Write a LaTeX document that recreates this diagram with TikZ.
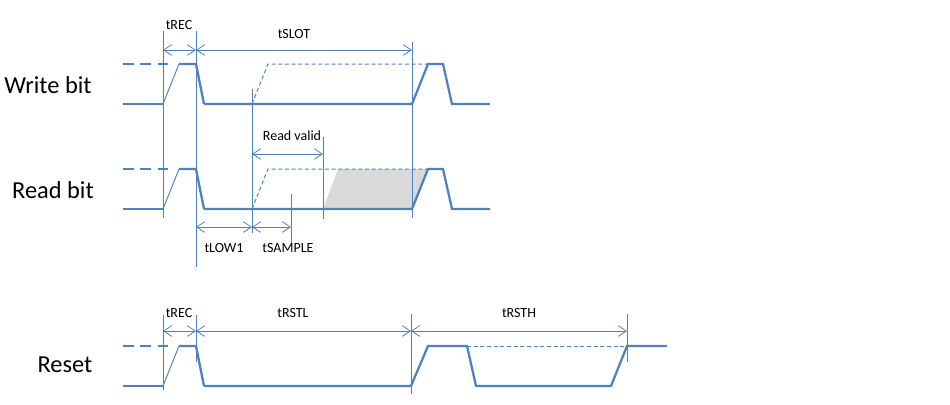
\documentclass[tikz,border=0pt]{standalone}
\usepackage{fontspec}
\setmainfont{Carlito}
\usetikzlibrary{arrows.meta,positioning}
\definecolor{sigblue}{HTML}{4F81BD}
\definecolor{validgray}{HTML}{D9D9D9}

\begin{document}
\begin{tikzpicture}[x=0.75pt, y=-0.75pt,
    sig/.style={draw=sigblue, line width=1.7pt},
    sigthin/.style={draw=sigblue, line width=0.75pt},
    vline/.style={draw=sigblue, line width=0.75pt},
    dim/.style={draw=sigblue, line width=0.6pt,
      {Straight Barb[length=6pt,width=8pt]}-{Straight Barb[length=6pt,width=8pt]}},
    rowlabel/.style={font=\fontsize{18.3}{21}\selectfont},
    tlabel/.style={font=\fontsize{10.5}{12}\selectfont}
  ]
\useasboundingbox (0,0) rectangle (950,404);

% Row labels
\node[rowlabel] (wlab) at (48,85) {Write bit};
\node[rowlabel] (rlab) at (53,190) {Read bit};
\node[rowlabel] (slab) at (65,365) {Reset};

% Read valid window
\fill[validgray] (323,209) -- (338,169) -- (427,169) -- (412,209) -- cycle;

% Common start: recovery and falling edge
\foreach \lo/\hi in {104/64, 209/169, 386/346} {
  \draw[sig] (123,\lo) -- (163,\lo);
  \draw[sig, dash pattern=on 8pt off 5pt] (123,\hi) -- (173,\hi);
  \draw[sigthin] (163,\lo) -- (179,\hi);
  \draw[sig] (179,\hi) -- (196,\hi) -- (204,\lo);
}

% Write bit and read bit slots
\foreach \lo/\hi in {104/64, 209/169} {
  \draw[sig] (204,\lo) -- (412,\lo) -- (428,\hi) -- (443,\hi) -- (452,\lo) -- (490,\lo);
  \draw[sigthin, dash pattern=on 3pt off 2pt] (252,\lo) -- (268,\hi) -- (427,\hi);
}

% Reset pulse
\draw[sig] (204,386) -- (411,386) -- (428,346) -- (467,346) -- (476,386)
  -- (611,386) -- (627,346) -- (667,346);
\draw[sigthin, dash pattern=on 3pt off 2pt] (467,346) -- (627,346);

% Marker lines
\draw[vline] (163,31) -- (163,218);
\draw[vline] (196,31) -- (196,267);
\draw[vline] (252,89) -- (252,233);
\draw[vline] (412,42) -- (412,218);
\draw[vline] (323,137) -- (323,219);
\draw[vline] (291,194) -- (291,244);
\draw[vline] (163,315) -- (163,390);
\draw[vline] (196,315) -- (196,362);
\draw[vline] (411,314) -- (411,394);
\draw[vline] (627,314) -- (627,362);

% Dimension points
\coordinate (wrec) at (163,50);
\coordinate (wslot) at (196,50);
\coordinate (wend) at (412,50);
\coordinate (rvs) at (252,154);
\coordinate (rve) at (323,154);
\coordinate (lowa) at (196,227);
\coordinate (lowb) at (252,227);
\coordinate (samp) at (291,227);
\coordinate (srec) at (163,331);
\coordinate (srstl) at (196,331);
\coordinate (srsth) at (411,331);
\coordinate (send) at (627,331);

% Dimension arrows
\draw[dim] (wrec) -- (wslot);
\draw[dim] (wslot) -- (wend);
\draw[dim] (rvs) -- (rve);
\draw[dim] (lowa) -- (lowb);
\draw[dim] (lowb) -- (samp);
\draw[dim] (srec) -- (srstl);
\draw[dim] (srstl) -- (srsth);
\draw[dim] (srsth) -- (send);

% Timing labels
\node[tlabel] (trec1) at (179,25) {tREC};
\node[tlabel] (tslot) at (294,34) {tSLOT};
\node[tlabel] (rvalid) at (292,136) {Read valid};
\node[tlabel] (tlow) at (224,248) {tLOW1};
\node[tlabel] (tsample) at (288,248) {tSAMPLE};
\node[tlabel] (trec2) at (179,313) {tREC};
\node[tlabel] (trstl) at (293,313) {tRSTL};
\node[tlabel] (trsth) at (519,313) {tRSTH};

\end{tikzpicture}
\end{document}
